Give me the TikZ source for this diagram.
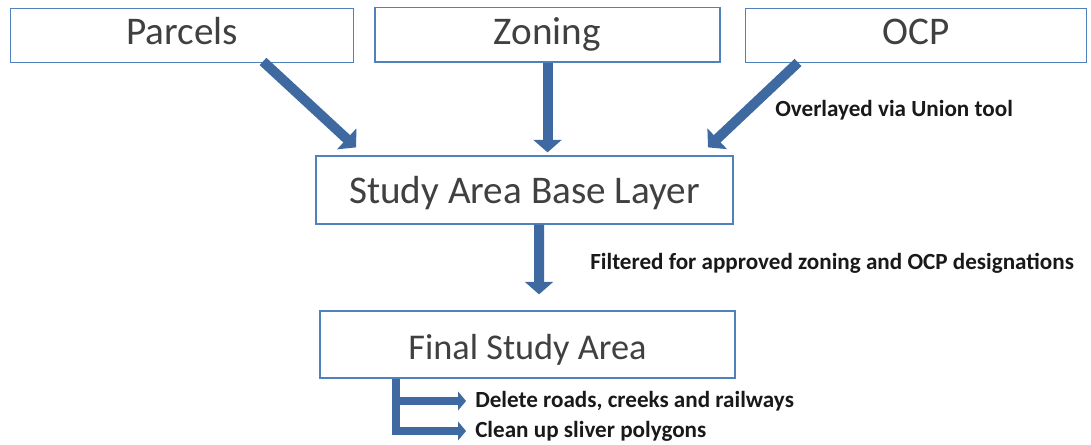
\documentclass[tikz,border=0pt]{standalone}
\usepackage{fontspec}
\setmainfont{Carlito}
\usepackage{tikz}
\usetikzlibrary{arrows.meta}
\definecolor{boxblue}{RGB}{79,129,189}
\definecolor{arrowblue}{RGB}{62,106,161}
\definecolor{boxtext}{RGB}{64,64,64}
\begin{document}
\begin{tikzpicture}[scale=0.26458]
\tikzstyle{every node}+=[inner sep=0pt]
\tikzstyle{layer}=[draw=boxblue, line width=1.1pt, text=boxtext, minimum height=41pt, text height=21pt, text depth=0pt, font=\fontsize{29.5}{34}\selectfont]
\tikzstyle{note}=[anchor=west, text=black!90, font=\fontsize{17.4}{20}\selectfont\bfseries]
\tikzstyle{flow}=[draw=arrowblue, line width=7.5pt, -{Triangle[width=21pt,length=9.5pt]}]
\tikzstyle{branch}=[draw=arrowblue, line width=6pt, line join=miter, -{Triangle[width=14pt,length=6pt]}]
\useasboundingbox (0,0) rectangle (109.1,-44.5);
\node [layer, minimum width=258pt, text height=14.3pt] (parcels) at (18.2,-3.55) {Parcels};
\node [layer, minimum width=260pt, text height=14.3pt] (zoning) at (54.75,-3.5) {Zoning};
\node [layer, minimum width=256.5pt, text height=14.3pt] (ocp) at (91.6,-3.55) {OCP};
\node [layer, minimum width=314.25pt, minimum height=51pt] (base) at (52.45,-19) {Study Area Base Layer};
\node [layer, minimum width=312.75pt, minimum height=50.25pt, text height=23.2pt, font=\fontsize{27.3}{32}\selectfont] (final) at (52.75,-34.45) {Final Study Area};
\node [note] (union) at (77.5,-11) {Overlayed via Union tool};
\node [note] (filter) at (59,-26.3) {Filtered for approved zoning and OCP designations};
\node [note] (delete) at (47.5,-40.1) {Delete roads, creeks and railways};
\node [note] (clean) at (47.5,-43.1) {Clean up sliver polygons};
\draw [flow] ([xshift=8.1cm,yshift=0.2cm]parcels.south) -- ([xshift=-16.85cm,yshift=0.8cm]base.north);
\draw [flow] (zoning.south) -- ([yshift=0.3cm]zoning.south |- base.north);
\draw [flow] ([xshift=-11.8cm,yshift=0.1cm]ocp.south) -- ([xshift=18.35cm,yshift=0.8cm]base.north);
\draw [flow] ([xshift=1.45cm]base.south) -- ([xshift=1.15cm,yshift=1.6cm]final.north);
\draw [branch] ([xshift=7.7cm]final.south west) |- ([xshift=-0.9cm]delete.west);
\draw [branch] ([xshift=7.7cm]final.south west) |- ([xshift=-0.9cm]clean.west);
\end{tikzpicture}
\end{document}
